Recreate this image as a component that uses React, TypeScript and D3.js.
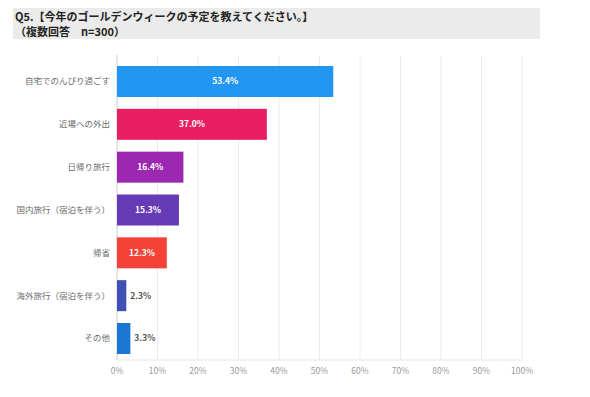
import { useRef, useEffect } from 'react'
import * as d3 from 'd3'

const CATEGORIES = [
  '自宅でのんびり過ごす',
  '近場への外出',
  '日帰り旅行',
  '国内旅行（宿泊を伴う）',
  '帰省',
  '海外旅行（宿泊を伴う）',
  'その他',
]
const VALUES = [53.4, 37.0, 16.4, 15.3, 12.3, 2.3, 3.3]
const BAR_COLORS = ['#2196f3', '#e91e63', '#9c27b0', '#673ab7', '#f44336', '#3f51b5', '#1976d2']
const X_TICKS = [0, 10, 20, 30, 40, 50, 60, 70, 80, 90, 100]
const TITLE = ['Q5.【今年のゴールデンウィークの予定を教えてください。】', '（複数回答　n=300）']

const FONT = '"Noto Sans CJK JP", "Noto Sans", sans-serif'

export default function App() {
  const svgRef = useRef<SVGSVGElement>(null)

  useEffect(() => {
    if (!svgRef.current) return
    const svg = d3.select(svgRef.current)
    svg.selectAll('*').remove()

    const width = 590
    const height = 397

    svg.attr('width', width).attr('height', height)
    svg.append('rect').attr('width', width).attr('height', height).attr('fill', '#fff')

    // title block
    svg.append('rect')
      .attr('x', 13).attr('y', 8).attr('width', 527).attr('height', 31)
      .attr('fill', '#ebebeb')
    TITLE.forEach((t, i) => {
      svg.append('text')
        .attr('x', 15).attr('y', 21 + i * 14.5)
        .attr('font-family', FONT).attr('font-size', '11px').attr('font-weight', 700)
        .attr('fill', '#222')
        .text(t)
    })

    const x = d3.scaleLinear().domain([0, 100]).range([117, 522])
    const y = d3.scaleBand<string>().domain(CATEGORIES).range([60, 360])
      .paddingInner(0.276).paddingOuter(0.14)

    // grid
    svg.append('g').selectAll('line')
      .data(X_TICKS)
      .join('line')
      .attr('x1', (d) => x(d)).attr('x2', (d) => x(d))
      .attr('y1', 55).attr('y2', 360)
      .attr('stroke', (d) => (d === 0 ? '#ccc' : '#ececec'))
      .attr('stroke-width', 1)

    svg.append('line')
      .attr('x1', x(0)).attr('x2', x(100)).attr('y1', 360).attr('y2', 360)
      .attr('stroke', '#e6e6e6')

    // bars
    const rows = CATEGORIES.map((c, i) => ({ cat: c, value: VALUES[i], color: BAR_COLORS[i] }))

    svg.append('g').selectAll('rect')
      .data(rows)
      .join('rect')
      .attr('x', x(0))
      .attr('y', (d) => y(d.cat)!)
      .attr('width', (d) => x(d.value) - x(0))
      .attr('height', y.bandwidth())
      .attr('fill', (d) => d.color)

    // value labels
    svg.append('g').selectAll('text')
      .data(rows)
      .join('text')
      .attr('x', (d) => (d.value > 8 ? (x(0) + x(d.value)) / 2 : x(d.value) + 4))
      .attr('y', (d) => y(d.cat)! + y.bandwidth() / 2)
      .attr('dy', '0.35em')
      .attr('text-anchor', (d) => (d.value > 8 ? 'middle' : 'start'))
      .attr('font-family', FONT).attr('font-size', '8.5px').attr('font-weight', 700)
      .attr('fill', (d) => (d.value > 8 ? '#fff' : '#555'))
      .text((d) => `${d.value.toFixed(1)}%`)

    // category labels
    svg.append('g').selectAll('text')
      .data(rows)
      .join('text')
      .attr('x', 110)
      .attr('y', (d) => y(d.cat)! + y.bandwidth() / 2)
      .attr('dy', '0.35em')
      .attr('text-anchor', 'end')
      .attr('font-family', FONT).attr('font-size', '8.5px')
      .attr('fill', '#6a6a6a')
      .text((d) => d.cat)

    // x tick labels
    svg.append('g').selectAll('text')
      .data(X_TICKS)
      .join('text')
      .attr('x', (d) => x(d))
      .attr('y', 374)
      .attr('text-anchor', 'middle')
      .attr('font-family', FONT).attr('font-size', '8.5px')
      .attr('fill', '#999')
      .text((d) => `${d}%`)
  }, [])

  return (
    <div style={{ position: 'absolute', left: 0, top: 0 }}>
      <svg ref={svgRef} style={{ display: 'block' }} />
    </div>
  )
}
